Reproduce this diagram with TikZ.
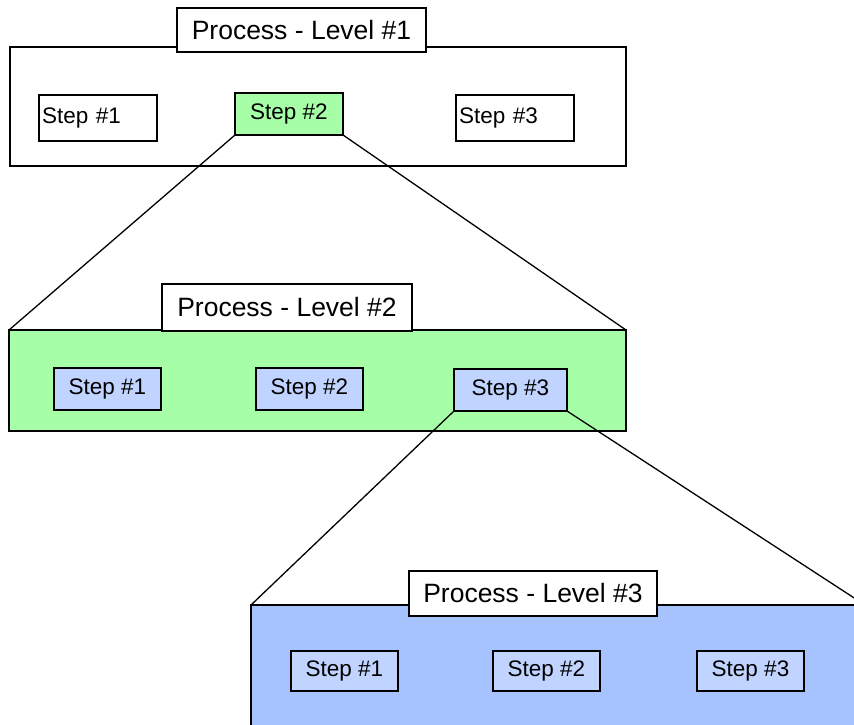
\documentclass[tikz,border=0pt]{standalone}
\usepackage{fontspec}
\setmainfont{Liberation Sans}
\definecolor{levelgreen}{RGB}{166,255,166}
\definecolor{stepblue}{RGB}{192,212,255}
\definecolor{levelblue}{RGB}{166,194,255}
\tikzset{
  panel/.style={draw=black, line width=1.6pt, rectangle, inner sep=0pt, outer sep=0pt},
  titlebox/.style={draw=black, fill=white, line width=1.3pt, rectangle, inner sep=0pt, outer sep=0pt,
    font=\fontsize{26.5}{30}\selectfont},
  stepbox/.style={draw=black, line width=1.3pt, rectangle, inner sep=0pt, outer sep=0pt,
    font=\fontsize{22.5}{26}\selectfont},
  zoomline/.style={draw=black, line width=1.3pt}
}
\begin{document}
\begin{tikzpicture}[x=1pt,y=-1pt]
\useasboundingbox (0,0) rectangle (854,724);
\clip (0,0) rectangle (854,724);

% Level 1
\node[panel, minimum width=616pt, minimum height=119pt] (lvl1) at (318,106.5) {};
\node[titlebox, minimum width=249pt, minimum height=44pt] (title1) at (301.5,30) {Process - Level \#1};
\node[stepbox, fill=white, minimum height=46pt, text width=112pt, inner xsep=3pt, align=left] (l1s1) at (98,118) {Step \#1};
\node[stepbox, fill=levelgreen, minimum width=108pt, minimum height=42pt] (l1s2) at (289,114) {Step \#2};
\node[stepbox, fill=white, minimum height=46pt, text width=112pt, inner xsep=3pt, align=left] (l1s3) at (515,118) {Step \#3};

% Level 2
\node[panel, fill=levelgreen, minimum width=617pt, minimum height=101pt] (lvl2) at (317.5,380.5) {};
\draw[zoomline] (l1s2.south west) -- (lvl2.north west);
\draw[zoomline] (l1s2.south east) -- (lvl2.north east);
\node[titlebox, minimum width=250pt, minimum height=47pt] (title2) at (287,307.5) {Process - Level \#2};
\node[stepbox, fill=stepblue, minimum width=107pt, minimum height=42pt] (l2s1) at (107.5,389) {Step \#1};
\node[stepbox, fill=stepblue, minimum width=107pt, minimum height=42pt] (l2s2) at (309.5,389) {Step \#2};
\node[stepbox, fill=stepblue, minimum width=113pt, minimum height=42pt] (l2s3) at (510.5,390) {Step \#3};

% Level 3 (runs past the right and bottom edges)
\node[panel, fill=levelblue, minimum width=614pt, minimum height=135pt] (lvl3) at (558,672.5) {};
\draw[zoomline] (l2s3.south west) -- (lvl3.north west);
\draw[zoomline] (l2s3.south east) -- (lvl3.north east);
\node[titlebox, minimum width=248pt, minimum height=45pt] (title3) at (533,593.5) {Process - Level \#3};
\node[stepbox, fill=stepblue, minimum width=107pt, minimum height=40pt] (l3s1) at (344.5,671) {Step \#1};
\node[stepbox, fill=stepblue, minimum width=107pt, minimum height=40pt] (l3s2) at (546.5,671) {Step \#2};
\node[stepbox, fill=stepblue, minimum width=107pt, minimum height=40pt] (l3s3) at (750.5,671) {Step \#3};
\end{tikzpicture}
\end{document}
